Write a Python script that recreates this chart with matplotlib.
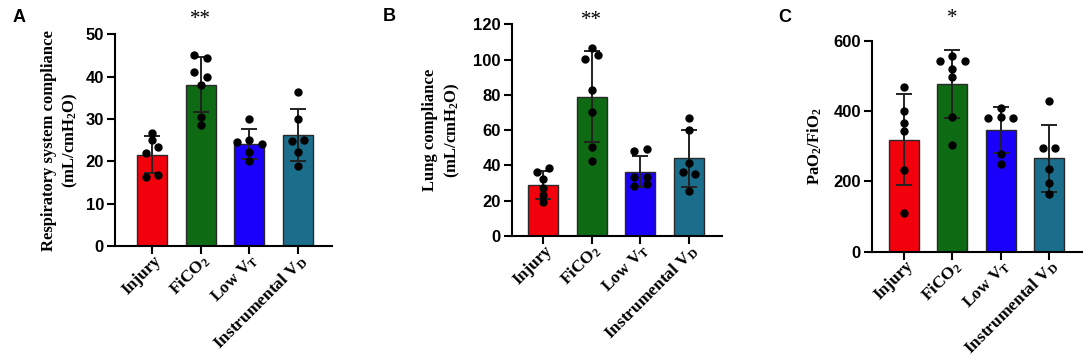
import matplotlib
matplotlib.use("Agg")
import matplotlib.pyplot as plt
import matplotlib.transforms as mtransforms
import numpy as np

plt.rcParams['mathtext.fontset'] = 'custom'
plt.rcParams['mathtext.rm'] = 'Liberation Serif:bold'
plt.rcParams['mathtext.it'] = 'Liberation Serif:bold'
plt.rcParams['mathtext.bf'] = 'Liberation Serif:bold'

# ---------------- data ----------------
categories = ["Injury", "FiCO$_2$", "Low V$_T$", "Instrumental V$_D$"]
bar_colors = ["#F2000C", "#0F6A14", "#1A00FA", "#1A6E8C"]

# Panel A: respiratory system compliance
a_means = [21.6, 38.1, 24.1, 26.2]
a_sds = [4.4, 6.5, 3.5, 6.2]
a_points = [
    [26.8, 25.0, 23.5, 22.0, 16.2, 16.8],
    [45.0, 44.4, 41.2, 40.0, 38.0, 30.4, 28.5],
    [30.0, 25.0, 24.5, 24.0, 22.3, 20.1],
    [36.3, 30.0, 24.8, 25.0, 22.3, 18.9],
]
a_jitter = [
    [0, 0, 0.13, -0.13, -0.12, 0.13],
    [-0.13, 0.13, -0.13, 0.13, 0, 0, 0],
    [0, 0, -0.26, 0.26, 0, 0],
    [0, 0, -0.13, 0.13, 0, 0],
]

# Panel B: lung compliance
b_means = [28.9, 79.0, 36.5, 44.0]
b_sds = [7.8, 25.8, 9.0, 16.0]
b_points = [
    [36.5, 38.4, 32.3, 27.0, 23.2, 19.1],
    [106.7, 102.8, 100.2, 82.6, 70.5, 50.3, 42.7],
    [48.4, 49.1, 33.6, 33.6, 28.3, 29.5],
    [66.7, 60.1, 41.2, 36.5, 35.1, 25.7],
]
b_jitter = [
    [-0.12, 0.13, 0, 0, 0, 0],
    [0, 0.13, -0.13, 0, 0, 0, 0],
    [-0.13, 0.13, -0.13, 0.13, -0.13, 0.13],
    [0, 0, 0, -0.13, 0.13, 0],
]

# Panel C: PaO2/FiO2
c_means = [318, 477, 346, 266]
c_sds = [129, 96, 66, 95]
c_points = [
    [468, 400, 365, 344, 232, 111],
    [557, 542, 542, 519, 496, 384, 303],
    [408, 381, 384, 379, 277, 249],
    [428, 296, 296, 234, 194, 164],
]
c_jitter = [
    [0, 0, 0, 0, 0, 0],
    [0, -0.26, 0.26, 0, 0, 0, 0],
    [0, -0.26, 0, 0.26, 0, 0],
    [0, -0.13, 0.13, 0, 0, 0],
]

panels = [
    dict(letter="A", means=a_means, sds=a_sds, pts=a_points, jit=a_jitter,
         ylabel="Respiratory system compliance\n(mL/cmH$_2$O)",
         yticks=[0, 10, 20, 30, 40, 50], ylim=(0, 50), sig="**",
         rect=[0.1061, 0.3109, 0.2002, 0.5930], xlim=(-0.76, 3.70),
         ylab_x=0.0555, letter_xy=(0.0175, 0.95), sig_y=1.072),
    dict(letter="B", means=b_means, sds=b_sds, pts=b_points, jit=b_jitter,
         ylabel="Lung compliance\n(mL/cmH$_2$O)",
         yticks=[0, 20, 40, 60, 80, 100, 120], ylim=(0, 120), sig="**",
         rect=[0.4723, 0.3389, 0.1937, 0.5930], xlim=(-0.64, 3.68),
         ylab_x=0.4077, letter_xy=(0.3589, 0.953), sig_y=1.02),
    dict(letter="C", means=c_means, sds=c_sds, pts=c_points, jit=c_jitter,
         ylabel="PaO$_2$/FiO$_2$",
         yticks=[0, 200, 400, 600], ylim=(0, 600), sig="*",
         rect=[0.8044, 0.2950, 0.1937, 0.5910], xlim=(-0.66, 3.68),
         ylab_x=0.7518, letter_xy=(0.7242, 0.952), sig_y=1.103),
]

fig = plt.figure(figsize=(10.84, 3.57), dpi=100)
serif = "Liberation Serif"
sans = "Liberation Sans"
label_offset = mtransforms.ScaledTranslation(7 / 100, -12 / 100,
                                             fig.dpi_scale_trans)

for p in panels:
    ax = fig.add_axes(p["rect"])
    x = np.arange(len(categories))
    ax.bar(x, p["means"], width=0.62, color=bar_colors, edgecolor="#2a2a2a",
           linewidth=1.0, zorder=2)
    ax.errorbar(x, p["means"], yerr=p["sds"], fmt="none", ecolor="#222222",
                elinewidth=1.4, capsize=6, capthick=1.4, zorder=3)
    for i in range(len(categories)):
        xs = i + np.array(p["jit"][i])
        ax.plot(xs, p["pts"][i], "o", color="black", ms=5.0, zorder=4,
                clip_on=False)
    ax.set_xlim(*p["xlim"])
    ax.set_ylim(*p["ylim"])
    ax.set_yticks(p["yticks"])
    ax.set_yticklabels([str(t) for t in p["yticks"]], fontfamily=sans,
                       fontweight="bold", fontsize=12)
    ax.set_xticks(x)
    ax.set_xticklabels([])
    for i, cat in enumerate(categories):
        ax.text(i, 0, cat, transform=ax.get_xaxis_transform() + label_offset,
                rotation=45, ha="right", va="center", rotation_mode="anchor",
                fontfamily=serif, fontweight="bold", fontsize=12.5)
    for s in ["top", "right"]:
        ax.spines[s].set_visible(False)
    for s in ["left", "bottom"]:
        ax.spines[s].set_linewidth(1.5)
        ax.spines[s].set_color("black")
    ax.tick_params(axis="both", direction="out", length=6, width=1.5,
                   color="black")
    ax.tick_params(axis="y", pad=2)
    # y label
    fig.text(p["ylab_x"], p["rect"][1] + p["rect"][3] / 2, p["ylabel"],
             rotation=90, ha="center", va="center", fontfamily=serif,
             fontweight="bold", fontsize=12, multialignment="center",
             linespacing=1.3)
    # panel letter
    fig.text(p["letter_xy"][0], p["letter_xy"][1], p["letter"],
             ha="center", va="center", fontfamily=sans, fontweight="bold",
             fontsize=13)
    # significance
    ax.text(1, p["sig_y"], p["sig"], transform=ax.get_xaxis_transform(),
            ha="center", va="center", fontfamily=serif, fontsize=15)

fig.savefig("out.png", dpi=100)
